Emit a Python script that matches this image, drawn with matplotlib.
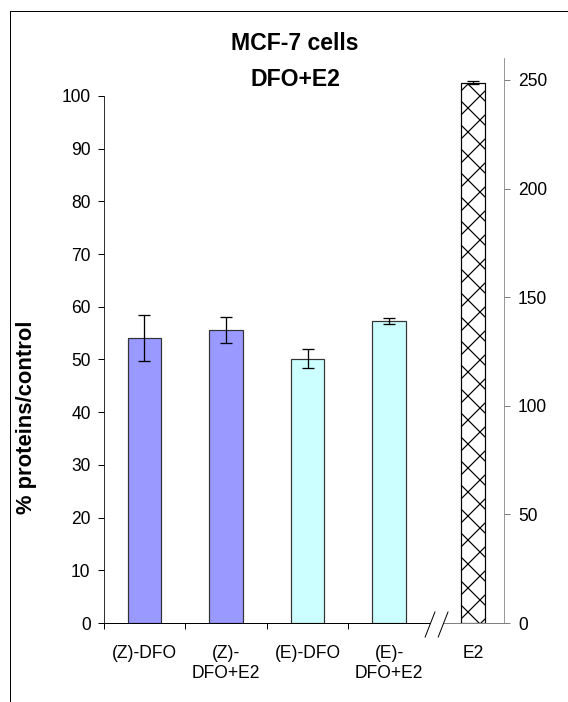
import matplotlib
matplotlib.use('Agg')
import matplotlib.pyplot as plt
import matplotlib.transforms as mtransforms
from matplotlib.lines import Line2D

# data
categories = ['(Z)-DFO', '(Z)-\nDFO+E2', '(E)-DFO', '(E)-\nDFO+E2']
values = [54.1, 55.6, 50.1, 57.3]
errors = [4.4, 2.4, 1.8, 0.5]
bar_colors = ['#9999FF', '#9999FF', '#CCFFFF', '#CCFFFF']

e2_label = 'E2'
e2_value = 248.8
e2_error = 0.8

left_ticks = list(range(0, 101, 10))
right_ticks = list(range(0, 251, 50))

plt.rcParams['font.family'] = ['Liberation Sans', 'DejaVu Sans']
plt.rcParams['hatch.linewidth'] = 1.2

W, H = 568, 702
fig = plt.figure(figsize=(W / 72, H / 72), dpi=72)
ax = fig.add_axes([103.5 / W, 79 / H, 400.5 / W, 565 / H])
ax2 = ax.twinx()

x = list(range(len(categories)))
e2_x = 4.03
xmax = 4.406

ax.bar(x, values, width=0.41, color=bar_colors, edgecolor='#333333', linewidth=1.2, zorder=2)
ax.errorbar(x, values, yerr=errors, fmt='none', ecolor='black', elinewidth=1.3,
            capsize=6, capthick=1.3, zorder=3)

ax2.bar([e2_x], [e2_value], width=0.29, color='white', edgecolor='black', hatch='x',
        linewidth=1.2, zorder=2)
ax2.errorbar([e2_x], [e2_value], yerr=[e2_error], fmt='none', ecolor='black',
             elinewidth=1.3, capsize=6, capthick=1.3, zorder=3)

ax.set_xlim(-0.5, xmax)
ax.set_ylim(0, 107.2)
ax2.set_ylim(0, 260.1)

# spines
for s in ['top', 'right', 'bottom']:
    ax.spines[s].set_visible(False)
for s in ['top', 'left', 'bottom']:
    ax2.spines[s].set_visible(False)
ax.spines['left'].set_bounds(0, 100)
ax.spines['left'].set_color('black')
ax2.spines['right'].set_color('#808080')

# ticks
ax.set_yticks(left_ticks)
ax.tick_params(axis='y', direction='out', length=6, width=1, pad=7, labelsize=17.5)
ax2.set_yticks(right_ticks)
ax2.tick_params(axis='y', direction='out', length=6, width=1, color='#808080', pad=8,
                labelsize=17.5)

ax.set_xticks(x + [e2_x])
ax.set_xticklabels(categories + [e2_label])
ax.set_xticks([-0.5, 0.5, 1.5, 2.5], minor=True)
ax.tick_params(axis='x', which='major', length=0, pad=22, labelsize=17.5)
ax.tick_params(axis='x', which='minor', direction='out', length=6, width=1, color='black')

# broken x axis
trans = mtransforms.blended_transform_factory(ax.transData, ax.transAxes)
ax.plot([-0.5, 3.50], [0, 0], transform=trans, color='black', lw=1, clip_on=False, zorder=4)
ax.plot([3.66, xmax], [0, 0], transform=trans, color='#808080', lw=1, clip_on=False, zorder=4)
for x0, x1 in [(3.44, 3.56), (3.60, 3.72)]:
    ax.plot([x0, x1], [-0.0248, 0.0195], transform=trans, color='black', lw=1,
            clip_on=False, zorder=4)
ax.set_xlim(-0.5, xmax)

# titles
fig.text(295 / W, 1 - 44 / H, 'MCF-7 cells', ha='center', va='center',
         fontsize=23, fontweight='bold')
fig.text(295 / W, 1 - 80 / H, 'DFO+E2', ha='center', va='center',
         fontsize=23, fontweight='bold')
fig.text(27 / W, 1 - 417 / H, '% proteins/control', rotation=90, ha='center',
         va='center', fontsize=22, fontweight='bold')

# outer frame (cut off on right and bottom)
fig.add_artist(Line2D([10 / W, 1], [1 - 11 / H, 1 - 11 / H], transform=fig.transFigure,
                      color='black', lw=1))
fig.add_artist(Line2D([10 / W, 10 / W], [0, 1 - 11 / H], transform=fig.transFigure,
                      color='black', lw=1))

fig.savefig('out.png', dpi=72)
